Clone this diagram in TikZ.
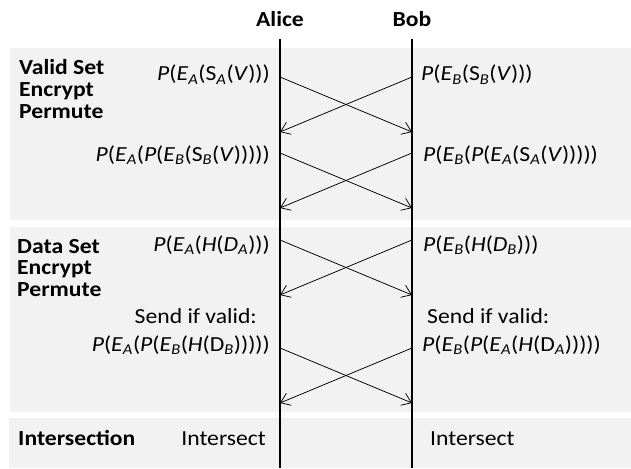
\documentclass[tikz,border=0pt]{standalone}
\usepackage{fontspec}
\setmainfont{Carlito}[FakeStretch = 1.1]
\usetikzlibrary{arrows.meta}
\definecolor{panelgray}{HTML}{F2F2F2}

\newcommand{\subA}{\textsubscript{\textit{A}}}
\newcommand{\subB}{\textsubscript{\textit{B}}}

\begin{document}
\begin{tikzpicture}[x = 1pt, y = -1pt,
    every node/.style = {inner sep = 0pt, font = \fontsize{21.5}{25}\selectfont},
    band/.style = {fill = panelgray},
    head/.style = {font = \fontsize{21.5}{25}\selectfont\bfseries},
    phase/.style = {anchor = base west, font = \fontsize{21.5}{25}\selectfont\bfseries},
    lhs/.style = {anchor = base east},
    rhs/.style = {anchor = base west},
    life/.style = {line width = 1.3pt},
    msg/.style = {line width = 0.75pt, -{Straight Barb[length = 9pt, width = 13pt]}}]
    \useasboundingbox (0,0) rectangle (631,468);
    % shaded phases
    \fill[band] (10,48) rectangle (631,220);
    \fill[band] (10,227) rectangle (631,412);
    \fill[band] (9,418) rectangle (631,468);
    % parties
    \node[head] (alice) at (280,19.5) {Alice};
    \node[head] (bob) at (412,19.5) {Bob};
    \coordinate (alicetop) at (280,39);
    \coordinate (alicebot) at (280,468);
    \coordinate (bobtop) at (412,39);
    \coordinate (bobbot) at (412,468);
    \draw[life] (alicetop) -- (alicebot);
    \draw[life] (bobtop) -- (bobbot);
    % phase names
    \node[phase] (valid) at (19,75) {Valid Set};
    \node[phase] (venc) at (19,96.5) {Encrypt};
    \node[phase] (vperm) at (19,118) {Permute};
    \node[phase] (data) at (17,253) {Data Set};
    \node[phase] (denc) at (17,274.5) {Encrypt};
    \node[phase] (dperm) at (17,296) {Permute};
    \node[phase] (inter) at (18,445) {Intersection};
    % alice side
    \node[lhs] (va1) at (270,81) {\textit{P}(\textit{E}\subA(S\subA(\textit{V})))};
    \node[lhs] (va2) at (270,161) {\textit{P}(\textit{E}\subA(\textit{P}(\textit{E}\subB(S\subB(\textit{V})))))};
    \node[lhs] (da1) at (270,251) {\textit{P}(\textit{E}\subA(\textit{H}(\textit{D}\subA)))};
    \node[lhs] (dsend) at (257,323) {Send if valid:};
    \node[lhs] (da2) at (270,351) {\textit{P}(\textit{E}\subA(\textit{P}(\textit{E}\subB(\textit{H}(D\subB)))))};
    \node[lhs] (ia) at (266,445) {Intersect};
    % bob side
    \node[rhs] (vb1) at (421,81) {\textit{P}(\textit{E}\subB(S\subB(\textit{V})))};
    \node[rhs] (vb2) at (423,161) {\textit{P}(\textit{E}\subB(\textit{P}(\textit{E}\subA(S\subA(\textit{V})))))};
    \node[rhs] (db1) at (423,251) {\textit{P}(\textit{E}\subB(\textit{H}(\textit{D}\subB)))};
    \node[rhs] (bsend) at (427,323) {Send if valid:};
    \node[rhs] (db2) at (422,351) {\textit{P}(\textit{E}\subB(\textit{P}(\textit{E}\subA(\textit{H}(D\subA)))))};
    \node[rhs] (ib) at (430,445) {Intersect};
    % crossing messages
    \foreach \top/\bot [count = \i] in {77/132, 153/208, 240/295, 348/403}{
        \coordinate (as\i) at (280,\top);
        \coordinate (bs\i) at (412,\top);
        \coordinate (ae\i) at (280,\bot);
        \coordinate (be\i) at (412,\bot);
        \draw[msg] (as\i) -- (be\i);
        \draw[msg] (bs\i) -- (ae\i);
    }
\end{tikzpicture}
\end{document}
